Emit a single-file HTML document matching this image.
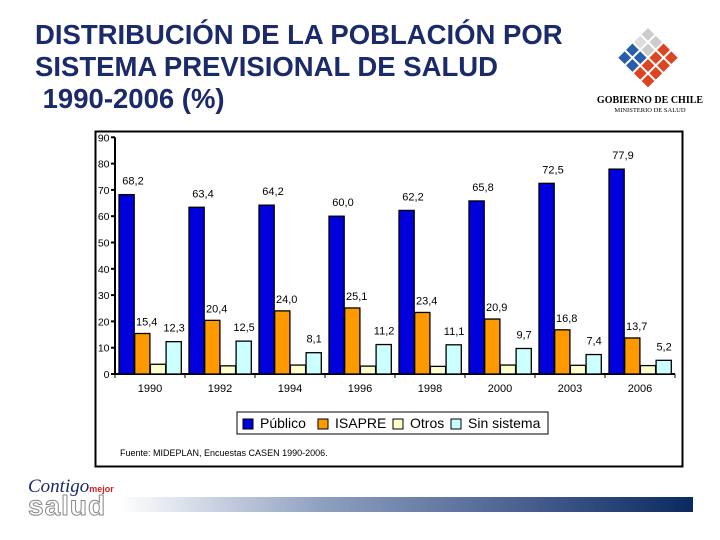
<!DOCTYPE html>
<html><head><meta charset="utf-8"><style>
body{margin:0;width:720px;height:540px;background:#fff;overflow:hidden;font-family:"Liberation Sans",sans-serif;position:relative}
.t{position:absolute;left:35px;top:19px;font-size:27.5px;font-weight:bold;color:#1a2a6b;line-height:32px}
</style></head><body>
<div class="t">DISTRIBUCIÓN DE LA POBLACIÓN POR<br>SISTEMA PREVISIONAL DE SALUD<br>&nbsp;1990-2006 (%)</div>
<svg style="position:absolute;left:590px;top:20px" width="120" height="100">
<g transform="translate(58,8) rotate(45)">
<rect x="0" y="0" width="9" height="9" fill="#ccc"/><rect x="11" y="0" width="9" height="9" fill="#ccc"/><rect x="0" y="11" width="9" height="9" fill="#ddd"/><rect x="11" y="11" width="9" height="9" fill="#ccc"/>
<rect x="0" y="22" width="9" height="9" fill="#2a5caa"/><rect x="0" y="33" width="9" height="9" fill="#2a5caa"/><rect x="11" y="22" width="9" height="9" fill="#2a5caa"/><rect x="11" y="33" width="9" height="9" fill="#2a5caa"/>
<rect x="22" y="0" width="9" height="9" fill="#d42"/><rect x="33" y="0" width="9" height="9" fill="#d42"/><rect x="22" y="11" width="9" height="9" fill="#d42"/><rect x="33" y="11" width="9" height="9" fill="#d42"/>
<rect x="22" y="22" width="9" height="9" fill="#d42"/><rect x="33" y="22" width="9" height="9" fill="#d42"/><rect x="22" y="33" width="9" height="9" fill="#d42"/><rect x="33" y="33" width="9" height="9" fill="#d42"/>
</g>
<text x="60" y="83" text-anchor="middle" font-size="10" font-family="Liberation Serif" font-weight="bold">GOBIERNO DE CHILE</text>
<text x="60" y="92" text-anchor="middle" font-size="6.5" font-family="Liberation Serif">MINISTERIO DE SALUD</text>
</svg>
<svg id="c" style="position:absolute;left:0;top:0" width="720" height="540"></svg>
<div style="position:absolute;left:28px;top:476px;font-family:'Liberation Serif';font-style:italic;color:#1a2a6b;font-size:19px">Contigo<span style="color:#c22;font-size:9px;font-style:normal;font-weight:bold;font-family:'Liberation Sans'">mejor</span></div>
<div style="position:absolute;left:28px;top:490px;font-size:28px;color:#fff;-webkit-text-stroke:1px #888;font-weight:bold;letter-spacing:1px">salud</div>
<div style="position:absolute;left:120px;top:497px;width:573px;height:15px;background:linear-gradient(to right,#fff,#8fa0c0 35%,#4a6090 70%,#0a2a60)"></div>
<script>
const years=["1990","1992","1994","1996","1998","2000","2003","2006"];
const publico=[68.2,63.4,64.2,60.0,62.2,65.8,72.5,77.9];
const isapre=[15.4,20.4,24.0,25.1,23.4,20.9,16.8,13.7];
const otros=[3.7,3.1,3.4,3.0,2.9,3.4,3.3,3.2];
const sinSistema=[12.3,12.5,8.1,11.2,11.1,9.7,7.4,5.2];
const yTicks=[0,10,20,30,40,50,60,70,80,90];
const NS="http://www.w3.org/2000/svg",svg=document.getElementById('c');
function mk(t,a,p){const e=document.createElementNS(NS,t);for(const k in a)e.setAttribute(k,a[k]);(p||svg).appendChild(e);return e;}
const y=v=>374-v*2.63, gx=i=>115+70*i;
let e=mk('rect',{x:95.5,y:131.5,width:587,height:335,fill:'#fff',stroke:'#000','stroke-width':2});

mk('line',{x1:115,y1:y(0),x2:115,y2:y(90),stroke:'#000','stroke-width':2});
mk('line',{x1:115,y1:374,x2:675,y2:374,stroke:'#000','stroke-width':2});
yTicks.forEach(v=>{mk('line',{x1:111,y1:y(v),x2:115,y2:y(v),stroke:'#000','stroke-width':2});
 const t=mk('text',{x:109.5,y:y(v)+4,'text-anchor':'end','font-size':10.5});t.textContent=v;
 });
const series=[[publico,'#0000dd','publico'],[isapre,'#ff9900','isapre'],[otros,'#ffffcc','otros'],[sinSistema,'#ccffff','sin-sistema']];
years.forEach((yr,i)=>{
 mk('line',{x1:gx(i),y1:374,x2:gx(i),y2:378,stroke:'#000'});
 const t=mk('text',{x:gx(i)+35,y:392,'text-anchor':'middle','font-size':11});t.textContent=yr;
 
 series.forEach(([arr,col,nm],s)=>{
  const bx=gx(i)+4+s*15.7,v=arr[i];
  const r=mk('rect',{x:bx,y:y(v),width:15.2,height:374-y(v),fill:col,stroke:'#000','stroke-width':1.3});
  
  if(nm!=='otros'){const l=mk('text',{x:bx+(s==0?14:s==1?12:8),y:y(v)-(s==0?10:s==1?8:10),'text-anchor':'middle','font-size':11});
   l.textContent=v.toFixed(1).replace('.',',');}
 });
});
mk('line',{x1:675,y1:374,x2:675,y2:378,stroke:'#000'});
const lg=mk('g',{});
mk('rect',{x:237,y:412,width:311,height:22,fill:'#fff',stroke:'#000'},lg);
const names=['Público','ISAPRE','Otros','Sin sistema'],lx=[243,318,393,451];
names.forEach((n,k)=>{mk('rect',{x:lx[k],y:419,width:10,height:10,fill:series[k][1],stroke:'#000'},lg);
 const t=mk('text',{x:lx[k]+17,y:428,'font-size':14},lg);t.textContent=n;
 });
const f=mk('text',{x:120,y:456,'font-size':9});f.textContent='Fuente: MIDEPLAN, Encuestas CASEN 1990-2006.';

</script>
</body></html>
